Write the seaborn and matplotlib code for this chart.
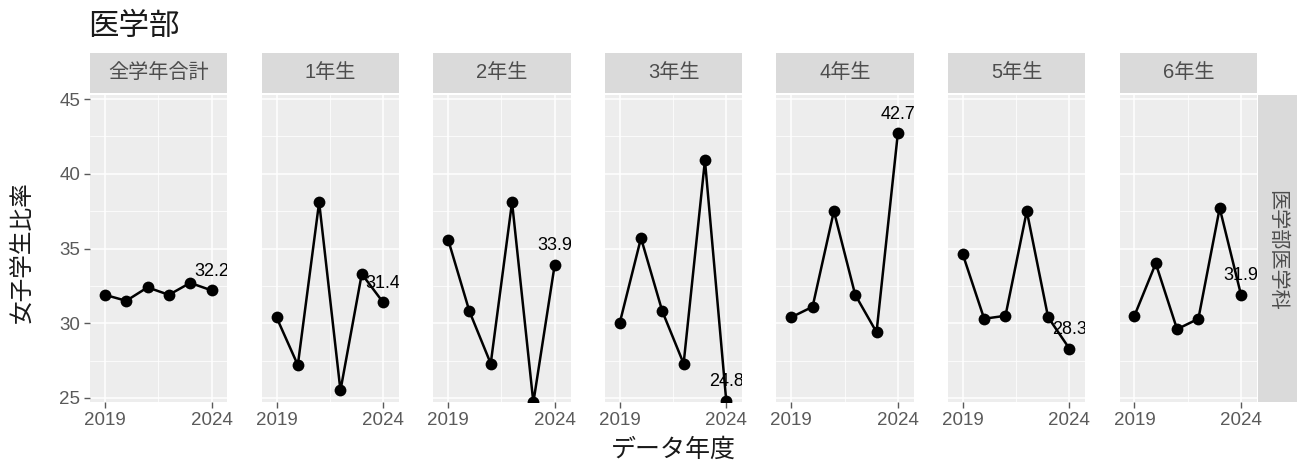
import numpy as np
import pandas as pd
import seaborn as sns
import matplotlib.pyplot as plt
from matplotlib.patches import Rectangle
from matplotlib.ticker import FixedLocator, MultipleLocator

# data
years = [2019, 2020, 2021, 2022, 2023, 2024]
panels = ["全学年合計", "1年生", "2年生", "3年生", "4年生", "5年生", "6年生"]
total = [31.9, 31.5, 32.4, 31.9, 32.7, 32.2]
grade1 = [30.4, 27.2, 38.1, 25.5, 33.3, 31.4]
grade2 = [35.6, 30.8, 27.3, 38.1, 24.7, 33.9]
grade3 = [30.0, 35.7, 30.8, 27.3, 40.9, 24.8]
grade4 = [30.4, 31.1, 37.5, 31.9, 29.4, 42.7]
grade5 = [34.6, 30.3, 30.5, 37.5, 30.4, 28.3]
grade6 = [30.5, 34.0, 29.6, 30.3, 37.7, 31.9]
series = [total, grade1, grade2, grade3, grade4, grade5, grade6]

rows = []
for name, vals in zip(panels, series):
    for y, v in zip(years, vals):
        rows.append({"学年": name, "年度": y, "比率": v})
df = pd.DataFrame(rows)

sns.set_style("darkgrid", {"axes.facecolor": "#EDEDED", "grid.color": "white"})
plt.rcParams["font.family"] = ["Liberation Sans", "Noto Sans CJK JP"]

W, H = 1298, 466
fig, axes = plt.subplots(1, 7, figsize=(W / 100, H / 100), dpi=100, sharey=True)
fig.subplots_adjust(left=90 / W, right=1257 / W, top=1 - 95 / H, bottom=1 - 402 / H,
                    wspace=0.248)

tick_col = "#5A5A5A"
for i, (ax, name) in enumerate(zip(axes, panels)):
    sub = df[df["学年"] == name]
    sns.lineplot(data=sub, x="年度", y="比率", ax=ax, color="black", lw=1.8,
                 marker="o", markersize=8.5, markeredgewidth=0)
    last = sub.iloc[-1]
    ax.annotate(f"{last['比率']:.1f}", (last["年度"], last["比率"]), xytext=(0, 13.7),
                textcoords="offset points", ha="center", va="center",
                fontsize=13, color="black", clip_on=True)
    ax.set_xlim(2018.3, 2024.75)
    ax.set_ylim(24.73, 45.27)
    ax.set_xticks([2019, 2024])
    ax.set_yticks([25, 30, 35, 40, 45])
    ax.xaxis.set_minor_locator(FixedLocator([2021.5]))
    ax.yaxis.set_minor_locator(MultipleLocator(2.5))
    ax.grid(which="major", color="white", lw=1.1)
    ax.grid(which="minor", color="white", lw=0.55)
    ax.tick_params(which="major", length=4, width=1, color=tick_col, labelcolor=tick_col,
                   labelsize=13.5, pad=3, left=(i == 0), bottom=True)
    ax.tick_params(which="minor", length=0)
    ax.set_xlabel("")
    ax.set_ylabel("")
    for s in ax.spines.values():
        s.set_visible(False)
    # strip
    ax.add_patch(Rectangle((0, 1.0065), 1, 0.13, transform=ax.transAxes,
                           facecolor="#DADADA", edgecolor="none", clip_on=False))
    ax.text(0.5, 1.072, name, transform=ax.transAxes, ha="center", va="center",
            fontsize=14.5, color="#4D4D4D")

# right strip
fig.add_artist(Rectangle((1258 / W, 1 - 402 / H), 39 / W, 307 / H, transform=fig.transFigure,
                         facecolor="#DADADA", edgecolor="none"))
fig.text(1277 / W, 1 - 250 / H, "医学部医学科", rotation=-90, ha="center", va="center",
         fontsize=14.5, color="#4D4D4D")

fig.text(88 / W, 1 - 27 / H, "医学部", fontsize=22, ha="left", va="center", color="#1A1A1A")
fig.text(673 / W, 1 - 450 / H, "データ年度", fontsize=18, ha="center", va="center",
         color="#1A1A1A")
fig.text(22 / W, 1 - 252 / H, "女子学生比率", fontsize=17, rotation=90, ha="center",
         va="center", color="#1A1A1A")

fig.savefig("out.png", dpi=100, facecolor="white")
